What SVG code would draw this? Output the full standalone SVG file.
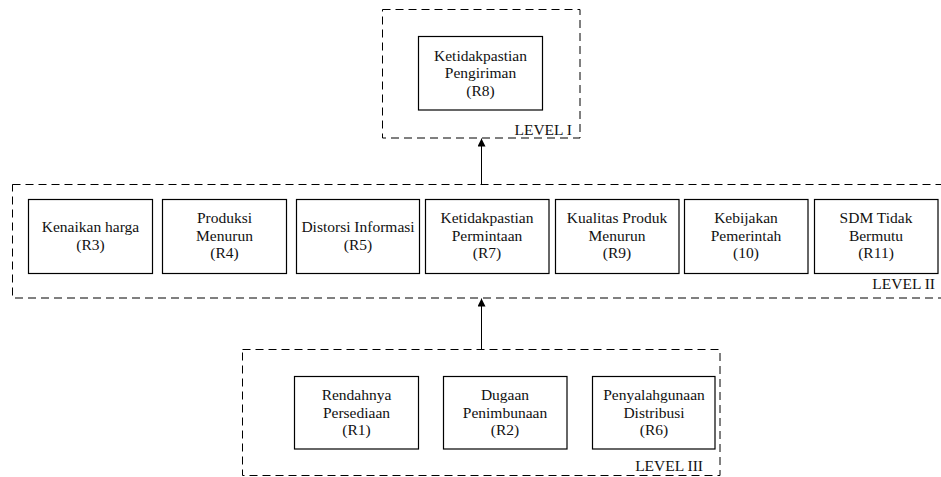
<svg xmlns="http://www.w3.org/2000/svg" width="941" height="477" viewBox="0 0 941 477" font-family="'Liberation Serif', 'Times New Roman', serif">
<style>
.lvl{fill:none;stroke:#000;stroke-width:1;stroke-dasharray:8 5}
.box{fill:#fff;stroke:#000;stroke-width:1.2}
text{font-family:'Liberation Serif','Times New Roman',serif;font-size:15.5px;fill:#111}
.c{text-anchor:middle}
.r{text-anchor:end}
.conn{stroke:#000;stroke-width:1;fill:none}
</style>
<defs>
<marker id="ah" viewBox="0 0 10 10" refX="10" refY="5" markerWidth="8" markerHeight="8" markerUnits="userSpaceOnUse" orient="auto">
<path d="M0,0 L10,5 L0,10 Z" fill="#000"/>
</marker>
</defs>

<g id="level1">
<rect class="lvl" x="382.5" y="9.5" width="197.5" height="128.5"/>
<text class="r" x="572" y="135">LEVEL I</text>
</g>
<g id="level2">
<rect class="lvl" x="12.5" y="184.5" width="930" height="113.5"/>
<text class="r" x="935" y="289">LEVEL II</text>
</g>
<g id="level3">
<rect class="lvl" x="242.5" y="349.5" width="477.5" height="126"/>
<text class="r" x="703" y="471">LEVEL III</text>
</g>

<g id="connectors">
<line class="conn" x1="481.5" y1="184" x2="481.5" y2="138.5" marker-end="url(#ah)"/>
<line class="conn" x1="481.5" y1="349" x2="481.5" y2="298.5" marker-end="url(#ah)"/>
</g>

<g id="R8">
<rect class="box" x="418.5" y="36.5" width="124" height="73.5"/>
<text class="c" x="480.5" y="60.5">Ketidakpastian</text>
<text class="c" x="480.5" y="78">Pengiriman</text>
<text class="c" x="480.5" y="95.5">(R8)</text>
</g>

<g id="R3">
<rect class="box" x="28.5" y="199.5" width="124" height="74"/>
<text class="c" x="90.5" y="232">Kenaikan harga</text>
<text class="c" x="90.5" y="249.5">(R3)</text>
</g>
<g id="R4">
<rect class="box" x="162.5" y="199.5" width="124" height="74"/>
<text class="c" x="224.5" y="223">Produksi</text>
<text class="c" x="224.5" y="240.5">Menurun</text>
<text class="c" x="224.5" y="258">(R4)</text>
</g>
<g id="R5">
<rect class="box" x="296.5" y="199.5" width="123" height="74"/>
<text class="c" x="358" y="232">Distorsi Informasi</text>
<text class="c" x="358" y="249.5">(R5)</text>
</g>
<g id="R7">
<rect class="box" x="425.5" y="199.5" width="123.5" height="74"/>
<text class="c" x="487" y="223">Ketidakpastian</text>
<text class="c" x="487" y="240.5">Permintaan</text>
<text class="c" x="487" y="258">(R7)</text>
</g>
<g id="R9">
<rect class="box" x="555.5" y="199.5" width="123.5" height="74"/>
<text class="c" x="617" y="223">Kualitas Produk</text>
<text class="c" x="617" y="240.5">Menurun</text>
<text class="c" x="617" y="258">(R9)</text>
</g>
<g id="R10">
<rect class="box" x="684.5" y="199.5" width="123.5" height="74"/>
<text class="c" x="746" y="223">Kebijakan</text>
<text class="c" x="746" y="240.5">Pemerintah</text>
<text class="c" x="746" y="258">(10)</text>
</g>
<g id="R11">
<rect class="box" x="814.5" y="199.5" width="123.5" height="74"/>
<text class="c" x="876" y="223">SDM Tidak</text>
<text class="c" x="876" y="240.5">Bermutu</text>
<text class="c" x="876" y="258">(R11)</text>
</g>

<g id="R1">
<rect class="box" x="294.5" y="376.5" width="124" height="72.5"/>
<text class="c" x="356.5" y="400">Rendahnya</text>
<text class="c" x="356.5" y="417.5">Persediaan</text>
<text class="c" x="356.5" y="435">(R1)</text>
</g>
<g id="R2">
<rect class="box" x="443.5" y="376.5" width="123.5" height="72.5"/>
<text class="c" x="505" y="400">Dugaan</text>
<text class="c" x="505" y="417.5">Penimbunaan</text>
<text class="c" x="505" y="435">(R2)</text>
</g>
<g id="R6">
<rect class="box" x="592.5" y="376.5" width="122.5" height="72.5"/>
<text class="c" x="654" y="400">Penyalahgunaan</text>
<text class="c" x="654" y="417.5">Distribusi</text>
<text class="c" x="654" y="435">(R6)</text>
</g>
</svg>
